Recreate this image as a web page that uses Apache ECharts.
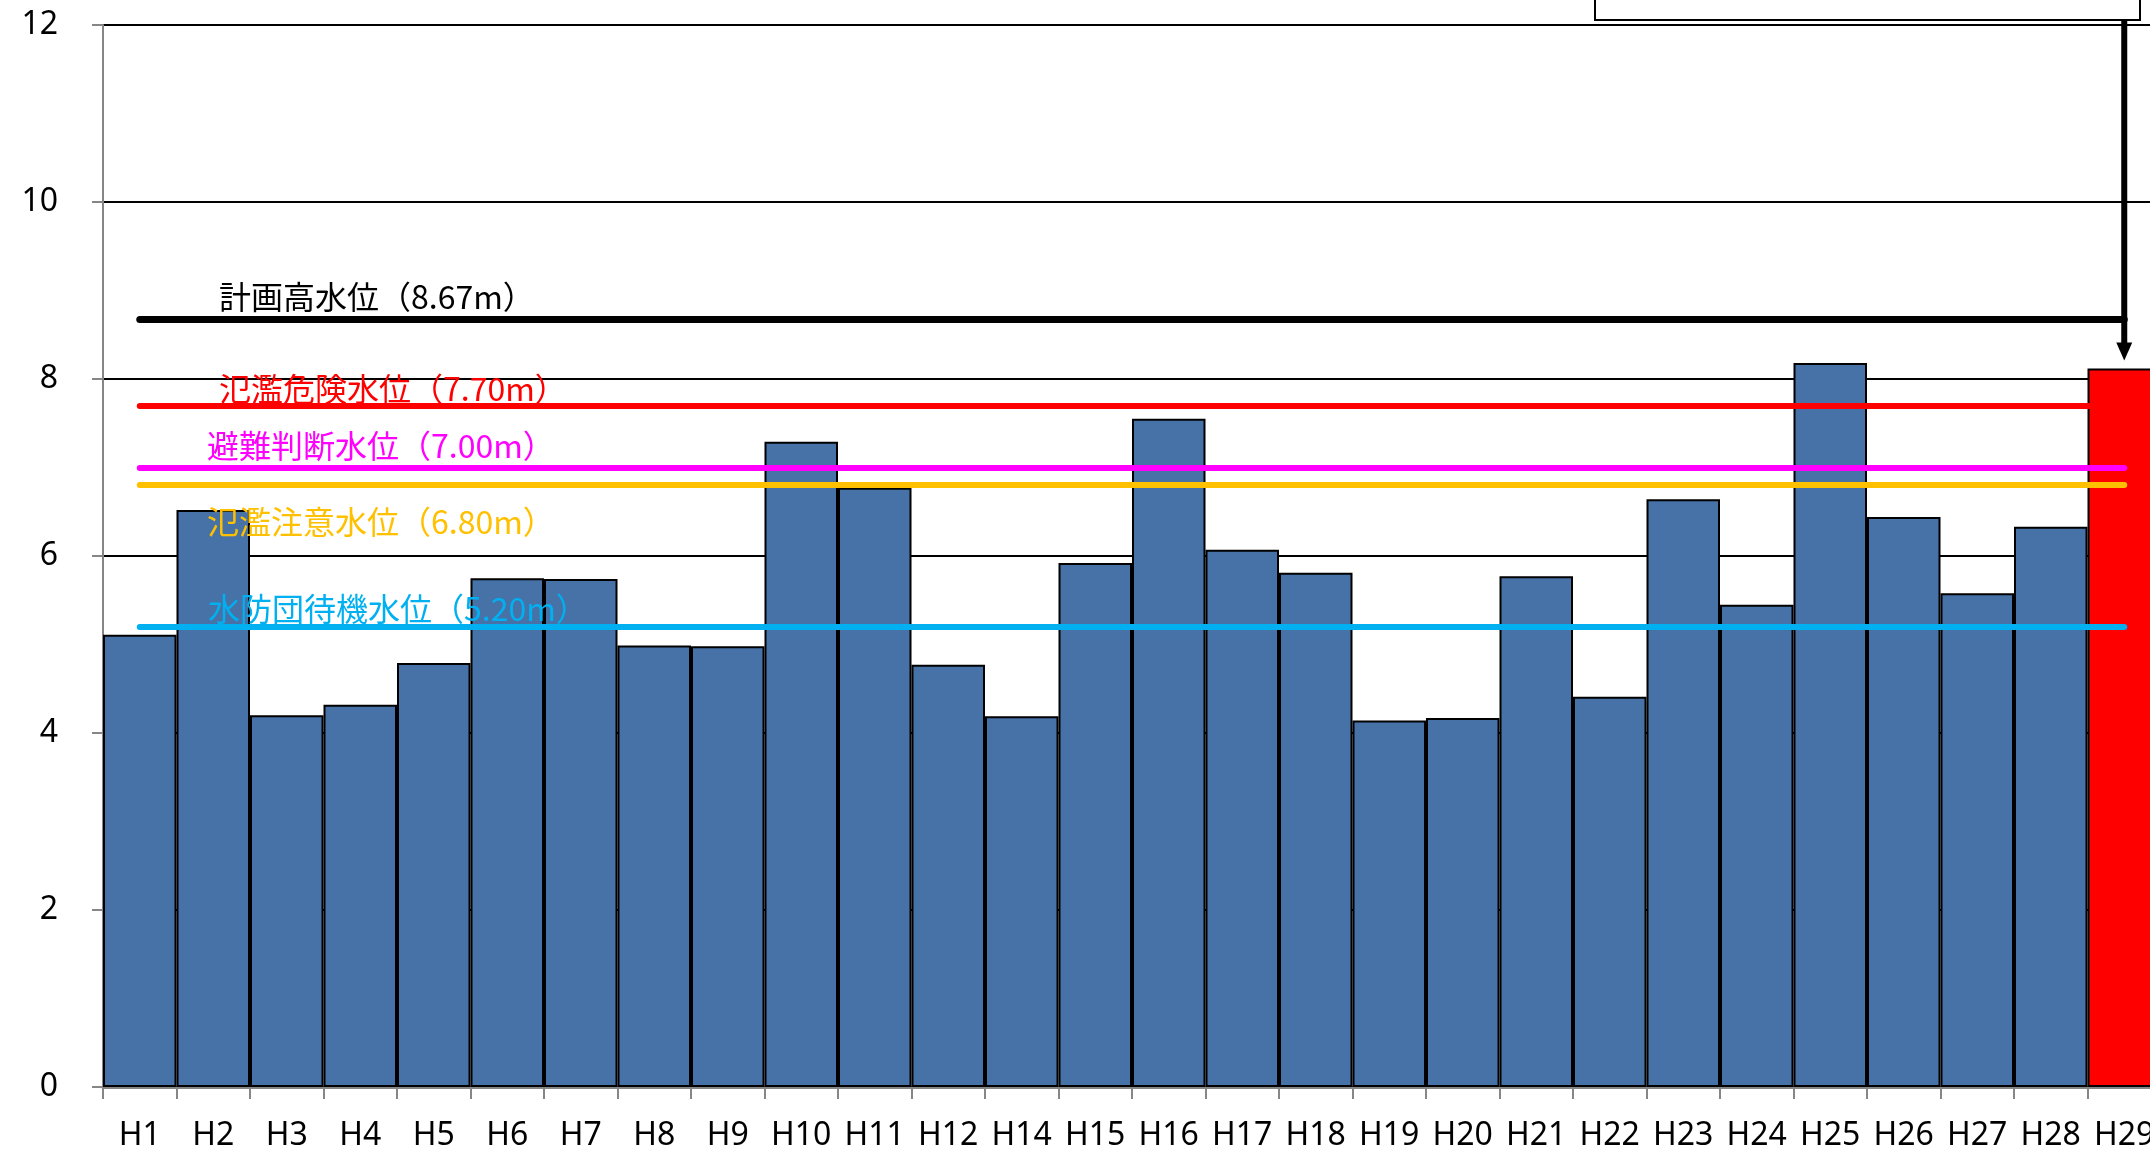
<!DOCTYPE html>
<html>
<head>
<meta charset="utf-8">
<script src="https://cdn.jsdelivr.net/npm/echarts@6/dist/echarts.min.js"></script>
<style>
  html, body { margin: 0; padding: 0; background: #fff; }
  #chart { width: 2150px; height: 1152px; }
</style>
</head>
<body>
<div id="chart"></div>
<script>
// 年度
const categories = ['H1', 'H2', 'H3', 'H4', 'H5', 'H6', 'H7', 'H8', 'H9', 'H10', 'H11', 'H12',
  'H14', 'H15', 'H16', 'H17', 'H18', 'H19', 'H20', 'H21', 'H22', 'H23', 'H24', 'H25', 'H26', 'H27', 'H28', 'H29'];
// 年最高水位 (m)
const waterLevels = [5.11, 6.52, 4.20, 4.32, 4.79, 5.75, 5.74, 4.99, 4.98, 7.29, 6.77, 4.77,
  4.19, 5.92, 7.55, 6.07, 5.81, 4.14, 4.17, 5.77, 4.41, 6.64, 5.45, 8.18, 6.44, 5.58, 6.33, 8.12];
const highlightYear = 'H29';
// 基準水位
const levelNames = ['計画高水位', '氾濫危険水位', '避難判断水位', '氾濫注意水位', '水防団待機水位'];
const levelValues = [8.67, 7.70, 7.00, 6.80, 5.20];
// y軸
const yMin = 0;
const yMax = 12;
const yInterval = 2;

const levelColors = ['#000000', '#ff0000', '#ff00ff', '#ffc000', '#00b0f0'];
// ラベル位置 (線からのずれ px)
const labelX = [219, 219, 207, 207, 208];
const labelDy = [-23, -17, -22, 37, -18];

const chart = echarts.init(document.getElementById('chart'));

const barData = waterLevels.map((v, i) => ({
  value: v,
  itemStyle: { color: categories[i] === highlightYear ? '#ff0000' : '#4672a7' },
}));

const markLines = levelValues.map((v, i) => [
  {
    coord: [categories[0], v],
    lineStyle: { color: levelColors[i], width: i === 0 ? 7 : 6, type: 'solid', cap: 'round' },
  },
  { coord: [categories[categories.length - 1], v] },
]);

chart.setOption({
  animation: false,
  grid: { left: 103, right: -11, top: 25, bottom: 65, outerBoundsMode: 'none', containLabel: false },
  xAxis: {
    type: 'category',
    data: categories,
    axisLine: { lineStyle: { color: '#868686', width: 3 } },
    axisTick: { show: true, length: 12, lineStyle: { color: '#868686', width: 2 } },
    axisLabel: { fontSize: 32, color: '#000', fontFamily: 'Noto Sans', margin: 33, interval: 0 },
  },
  yAxis: {
    type: 'value',
    min: yMin,
    max: yMax,
    interval: yInterval,
    axisLine: { show: true, lineStyle: { color: '#868686', width: 2 } },
    axisTick: { show: true, length: 11, lineStyle: { color: '#868686', width: 2 } },
    axisLabel: { fontSize: 32, color: '#000', fontFamily: 'Noto Sans', margin: 45 },
    splitLine: { lineStyle: { color: '#000', width: 2 } },
  },
  series: [
    {
      type: 'bar',
      data: barData,
      barCategoryGap: 0,
      itemStyle: { borderColor: '#000', borderWidth: 2 },
      markLine: {
        silent: true,
        symbol: 'none',
        z: 5,
        label: { show: false },
        lineStyle: { type: 'solid' },
        data: markLines,
      },
    },
  ],
});

// 注釈 (ラベル・矢印・枠)
const graphics = [];
levelValues.forEach((v, i) => {
  const y = chart.convertToPixel({ yAxisIndex: 0 }, v);
  graphics.push({
    type: 'text',
    z: 100,
    x: labelX[i],
    y: y + labelDy[i],
    style: {
      text: levelNames[i] + '（' + v.toFixed(2) + 'm）',
      fill: levelColors[i],
      font: '32px "Noto Sans CJK JP"',
      textVerticalAlign: 'middle',
    },
  });
});

const hi = categories.indexOf(highlightYear);
const ax = chart.convertToPixel({ xAxisIndex: 0 }, highlightYear);
const barTop = chart.convertToPixel({ yAxisIndex: 0 }, waterLevels[hi]);
const tip = barTop - 8;
graphics.push(
  {
    type: 'rect',
    z: 99,
    shape: { x: 1595, y: -60, width: 545, height: 80 },
    style: { fill: '#fff', stroke: '#000', lineWidth: 2 },
  },
  {
    type: 'text',
    z: 100,
    x: 1700,
    y: -2,
    style: {
      text: '平成29年10月23日（8.13m）',
      fill: '#000',
      font: '30px "Noto Sans CJK JP"',
      textVerticalAlign: 'bottom',
    },
  },
  {
    type: 'line',
    z: 100,
    shape: { x1: ax, y1: 20, x2: ax, y2: tip - 15 },
    style: { stroke: '#000', lineWidth: 6 },
  },
  {
    type: 'polygon',
    z: 100,
    shape: { points: [[ax - 8, tip - 18], [ax + 8, tip - 18], [ax, tip]] },
    style: { fill: '#000' },
  }
);

chart.setOption({ graphic: graphics });
</script>
</body>
</html>
